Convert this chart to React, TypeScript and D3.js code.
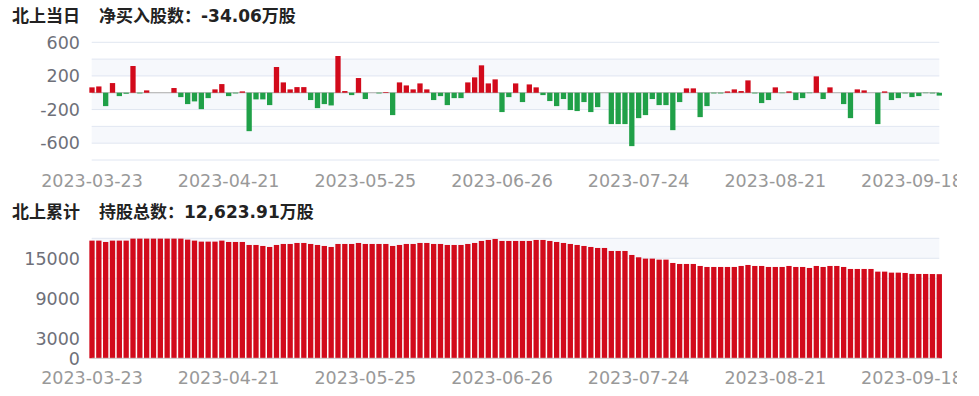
import React from "react";
import * as d3 from "d3";

const dates = [
  "2023-03-23","2023-03-24","2023-03-27","2023-03-28","2023-03-29","2023-03-30","2023-03-31",
  "2023-04-03","2023-04-04","2023-04-06","2023-04-07","2023-04-10","2023-04-11","2023-04-12","2023-04-13","2023-04-14",
  "2023-04-17","2023-04-18","2023-04-19","2023-04-20","2023-04-21","2023-04-24","2023-04-25","2023-04-26","2023-04-27","2023-04-28",
  "2023-05-05","2023-05-08","2023-05-09","2023-05-10","2023-05-11","2023-05-12","2023-05-15","2023-05-16","2023-05-17","2023-05-18","2023-05-19",
  "2023-05-22","2023-05-23","2023-05-24","2023-05-25","2023-05-26","2023-05-29","2023-05-30","2023-05-31",
  "2023-06-01","2023-06-02","2023-06-05","2023-06-06","2023-06-07","2023-06-08","2023-06-09","2023-06-12","2023-06-13","2023-06-14","2023-06-15","2023-06-16",
  "2023-06-19","2023-06-20","2023-06-21","2023-06-26","2023-06-27","2023-06-28","2023-06-29","2023-06-30",
  "2023-07-03","2023-07-04","2023-07-05","2023-07-06","2023-07-07","2023-07-10","2023-07-11","2023-07-12","2023-07-13","2023-07-14",
  "2023-07-17","2023-07-18","2023-07-19","2023-07-20","2023-07-21","2023-07-24","2023-07-25","2023-07-26","2023-07-27","2023-07-28","2023-07-31",
  "2023-08-01","2023-08-02","2023-08-03","2023-08-04","2023-08-07","2023-08-08","2023-08-09","2023-08-10","2023-08-11",
  "2023-08-14","2023-08-15","2023-08-16","2023-08-17","2023-08-18","2023-08-21","2023-08-22","2023-08-23","2023-08-24","2023-08-25",
  "2023-08-28","2023-08-29","2023-08-30","2023-08-31","2023-09-01","2023-09-04","2023-09-05","2023-09-06","2023-09-07","2023-09-08",
  "2023-09-11","2023-09-12","2023-09-13","2023-09-14","2023-09-15","2023-09-18","2023-09-19","2023-09-20","2023-09-21","2023-09-22",
];

// 北上当日 净买入股数 (万股)
const dailyNetBuy = [
  64, 75, -159, 115, -40, -12, 318, -8, 28, 0,
  0, 0, 56, -52, -135, -103, -195, -64, 40, 103,
  -40, -8, 16, -457, -79, -79, -147, 306, 123, 40,
  67, 67, -87, -183, -135, -151, 437, 20, -28, 175,
  -75, 0, -8, 8, -266, 123, 87, 40, 111, 40,
  -87, -40, -147, -64, -64, 123, 183, 326, 111, 159,
  -230, -52, 111, -111, 99, 64, -28, -99, -159, -75,
  -206, -218, -111, -230, -171, 0, -373, -373, -373, -635,
  -302, -266, -75, -147, -147, -445, -111, 52, 52, -290,
  -159, -8, -8, 16, 40, 20, 147, -8, -123, -87,
  64, -5, 16, -87, -64, -5, 195, -75, 64, 0,
  -135, -302, 40, 28, 0, -373, 16, -87, -64, -8,
  -52, -40, -5, -8, -34.06,
];

// 北上累计 持股总数 (万股)
const holdings = [
  17650, 17650, 17450, 17650, 17650, 17650, 17950, 17950, 17950, 17950,
  17950, 17950, 17950, 17950, 17800, 17650, 17500, 17500, 17500, 17650,
  17450, 17450, 17450, 17000, 17000, 16850, 16700, 17000, 17150, 17150,
  17300, 17300, 17150, 17000, 16850, 16700, 17150, 17150, 17150, 17300,
  17150, 17150, 17150, 17150, 16850, 17000, 17150, 17150, 17300, 17300,
  17150, 17150, 17000, 17000, 17000, 17150, 17300, 17600, 17750, 17900,
  17600, 17600, 17600, 17600, 17600, 17750, 17750, 17600, 17450, 17300,
  17150, 17000, 16850, 16700, 16550, 16550, 16100, 16100, 16100, 15500,
  15150, 14950, 14950, 14800, 14800, 14300, 14150, 14150, 14150, 13850,
  13700, 13700, 13700, 13700, 13700, 13850, 14000, 13850, 13850, 13700,
  13700, 13700, 13850, 13700, 13700, 13550, 13850, 13700, 13850, 13850,
  13700, 13400, 13400, 13400, 13400, 13000, 13000, 12850, 12850, 12800,
  12660, 12650, 12650, 12640, 12623.91,
];

const topGridValues = [-800, -600, -400, -200, 0, 200, 400, 600];
const topTickLabels = [600, 200, -200, -600];
const bottomGridValues = [0, 3000, 6000, 9000, 12000, 15000, 18000];
const bottomTickLabels = [15000, 9000, 3000, 0];
const labelEvery = 20;

const title1a = "北上当日";
const title1b = "净买入股数：-34.06万股";
const title2a = "北上累计";
const title2b = "持股总数：12,623.91万股";

const RED = "#d20a1b";
const GREEN = "#20a048";
const BAND = "rgb(246,248,252)";
const GRID = "#E0E6F1";
const YLAB = "#6E7079";
const XLAB = "#999999";
const FONT = "'DejaVu Sans', 'Noto Sans CJK SC', sans-serif";

export default function App() {
  const W = 957;
  const H = 396;
  const x = d3.scalePoint<string>().domain(dates).range([92, 939.3]).padding(0);
  const barW = 5.3;

  const yTop = d3.scaleLinear().domain([-800, 600]).range([160, 42.3]);
  const yBot = d3.scaleLinear().domain([0, 18000]).range([358.3, 238.3]);

  const gx0 = 91.7;
  const gx1 = 939.3;

  const bands = (vals: number[], y: d3.ScaleLinear<number, number>) =>
    vals.slice(0, -1).map((v, i) =>
      i % 2 === 1 ? (
        <rect key={"b" + i} x={gx0} width={gx1 - gx0} y={y(vals[i + 1])} height={y(v) - y(vals[i + 1])} fill={BAND} />
      ) : null
    );

  const gridLines = (vals: number[], y: d3.ScaleLinear<number, number>, skip: number[]) =>
    vals.filter((v) => !skip.includes(v)).map((v) => (
      <line key={"g" + v} x1={gx0} x2={gx1} y1={y(v)} y2={y(v)} stroke={GRID} strokeWidth={1} />
    ));

  const xLabels = (baseY: number) =>
    dates.map((d, i) =>
      i % labelEvery === 0 ? (
        <text key={"x" + i} x={x(d)} y={baseY} textAnchor="middle" fontSize={17.5} fill={XLAB} fontFamily={FONT}>
          {d}
        </text>
      ) : null
    );

  return (
    <div style={{ position: "absolute", left: 0, top: 0 }}>
      <svg width={W} height={H} style={{ display: "block", background: "#fff" }}>
        {/* Titles */}
        <text x={12} y={22} fontSize={17} fontWeight="bold" fill="#222" fontFamily={FONT}>{title1a}</text>
        <text x={99} y={22} fontSize={17} fontWeight="bold" fill="#222" fontFamily={FONT}>{title1b}</text>
        <text x={12} y={218} fontSize={17} fontWeight="bold" fill="#222" fontFamily={FONT}>{title2a}</text>
        <text x={99} y={218} fontSize={17} fontWeight="bold" fill="#222" fontFamily={FONT}>{title2b}</text>

        {/* Top chart */}
        {bands(topGridValues, yTop)}
        {gridLines(topGridValues, yTop, [0])}
        <line x1={gx0} x2={gx1} y1={yTop(0)} y2={yTop(0)} stroke="#aaaaaa" strokeWidth={1} />
        {dailyNetBuy.map((v, i) => {
          const y0 = yTop(0);
          const y1 = yTop(v);
          return (
            <rect key={"d" + i} x={(x(dates[i]) as number) - barW / 2} width={barW}
              y={Math.min(y0, y1)} height={Math.abs(y1 - y0)} fill={v >= 0 ? RED : GREEN} />
          );
        })}
        {topTickLabels.map((v) => (
          <text key={"ty" + v} x={80} y={yTop(v)} dy="0.36em" textAnchor="end" fontSize={17.5} fill={YLAB} fontFamily={FONT}>{v}</text>
        ))}
        {xLabels(186.5)}

        {/* Bottom chart */}
        {bands(bottomGridValues, yBot)}
        {gridLines(bottomGridValues, yBot, [0])}
        {holdings.map((v, i) => (
          <rect key={"h" + i} x={(x(dates[i]) as number) - barW / 2} width={barW}
            y={yBot(v)} height={yBot(0) - yBot(v)} fill={RED} />
        ))}
        <line x1={gx0} x2={gx1} y1={yBot(0)} y2={yBot(0)} stroke="#cccccc" strokeWidth={1} />
        {bottomTickLabels.map((v) => (
          <text key={"by" + v} x={80} y={yBot(v)} dy="0.36em" textAnchor="end" fontSize={17.5} fill={YLAB} fontFamily={FONT}>{v}</text>
        ))}
        {xLabels(383.5)}
      </svg>
    </div>
  );
}
